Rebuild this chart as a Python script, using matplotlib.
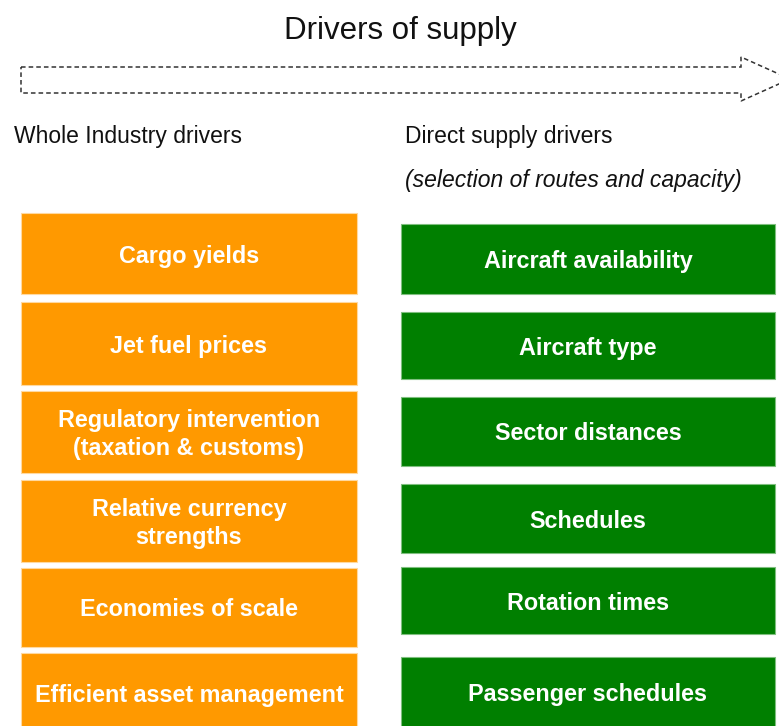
import matplotlib
matplotlib.use("Agg")
import matplotlib.pyplot as plt
from matplotlib.patches import Rectangle, Polygon

title = "Drivers of supply"
left_header = "Whole Industry drivers"
right_header = "Direct supply drivers"
right_subheader = "(selection of routes and capacity)"
industry_drivers = [
    "Cargo yields",
    "Jet fuel prices",
    "Regulatory intervention\n(taxation & customs)",
    "Relative currency\nstrengths",
    "Economies of scale",
    "Efficient asset management",
]
supply_drivers = [
    "Aircraft availability",
    "Aircraft type",
    "Sector distances",
    "Schedules",
    "Rotation times",
    "Passenger schedules",
]

W, H = 779, 726
fig = plt.figure(figsize=(W / 100, H / 100), dpi=100)
ax = fig.add_axes([0, 0, 1, 1])
ax.set_xlim(0, W)
ax.set_ylim(H, 0)
ax.axis("off")

FONT = "Liberation Sans"
ORANGE = "#FF9900"
GREEN = "#007F00"

ax.text(400, 31, title, ha="center", va="center", fontsize=22.5, family=FONT, color="#111111")

# dashed arrow outline
arrow_pts = [(21, 67), (741, 67), (741, 57), (790, 79), (741, 101), (741, 93), (21, 93)]
ax.add_patch(Polygon(arrow_pts, closed=True, fill=False, edgecolor="#333333",
                     linestyle=(0, (3, 2)), linewidth=1.1))

ax.text(14, 137, left_header, ha="left", va="center", fontsize=16.5, family=FONT, color="#111111")
ax.text(405, 137, right_header, ha="left", va="center", fontsize=16.5, family=FONT, color="#111111")
ax.text(405, 181, right_subheader, ha="left", va="center", fontsize=16.5, family=FONT,
        style="italic", color="#111111")

left_tops = [213, 302, 391, 480, 568, 653]
left_bottoms = [294, 385, 473, 562, 647, 740]
for label, t, b in zip(industry_drivers, left_tops, left_bottoms):
    ax.add_patch(Rectangle((21, t), 336, b - t, facecolor=ORANGE, edgecolor="#FFD9A0", linewidth=0.8))
    cy = (t + min(b, 733)) / 2 + 2.5
    ax.text(189, cy, label, ha="center", va="center", fontsize=16.8, family=FONT,
            weight="bold", color="white", linespacing=1.3)

right_tops = [224, 312, 397, 484, 567, 657]
right_bottoms = [294, 379, 466, 553, 634, 740]
for label, t, b in zip(supply_drivers, right_tops, right_bottoms):
    ax.add_patch(Rectangle((401, t), 374, b - t, facecolor=GREEN, edgecolor="#7FBF7F", linewidth=0.8))
    cy = (t + min(b, 727)) / 2 + 2.5
    ax.text(588, cy, label, ha="center", va="center", fontsize=16.8, family=FONT,
            weight="bold", color="white")

fig.savefig("out.png", dpi=100)
